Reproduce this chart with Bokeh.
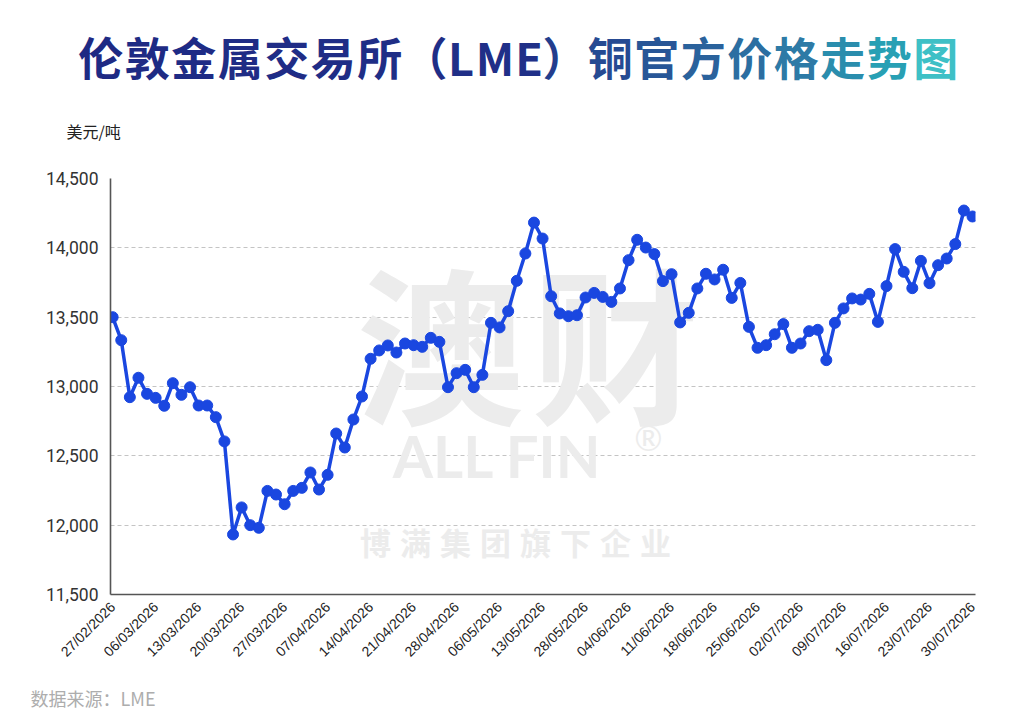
import math
from bokeh.plotting import figure
from bokeh.layouts import column
from bokeh.models import ColumnDataSource, Label, FixedTicker, Range1d, NumeralTickFormatter
from bokeh.embed import file_html
from bokeh.resources import INLINE

# ---------------- data ----------------
prices = [
    13500, 13334, 12923, 13063, 12947, 12918, 12861, 13024, 12940, 12995,
    12863, 12863, 12779, 12604, 11933, 12128, 12000, 11981, 12247, 12221,
    12151, 12247, 12269, 12380, 12257, 12363, 12661, 12560, 12762, 12928,
    13200, 13260, 13296, 13245, 13310, 13298, 13286, 13351, 13322, 12995,
    13096, 13120, 12995, 13084, 13459, 13426, 13543, 13762, 13959, 14182,
    14067, 13651, 13527, 13507, 13514, 13642, 13675, 13646, 13610, 13707,
    13911, 14058, 14002, 13955, 13760, 13810, 13462, 13531, 13707, 13813,
    13772, 13842, 13639, 13747, 13430, 13279, 13298, 13377, 13450, 13279,
    13310, 13399, 13409, 13190, 13459, 13563, 13635, 13627, 13668, 13466,
    13724, 13991, 13827, 13709, 13906, 13745, 13875, 13923, 14027, 14269,
    14226,
]
tick_labels = [
    "27/02/2026", "06/03/2026", "13/03/2026", "20/03/2026", "27/03/2026",
    "07/04/2026", "14/04/2026", "21/04/2026", "28/04/2026", "06/05/2026",
    "13/05/2026", "28/05/2026", "04/06/2026", "11/06/2026", "18/06/2026",
    "25/06/2026", "02/07/2026", "09/07/2026", "16/07/2026", "23/07/2026",
    "30/07/2026",
]
label_every = 5
y_ticks = [11500, 12000, 12500, 13000, 13500, 14000, 14500]
title_text = "伦敦金属交易所（LME）铜官方价格走势图"
unit_text = "美元/吨"
source_text = "数据来源：LME"
wm_big = "澳财"
wm_mid = "ALL FIN"
wm_small = "博满集团旗下企业"

# ---------------- page layout ----------------
W, H = 1024, 727
HEAD, FOOT = 145, 680          # header: page y 0..145, main: 145..680, footer: 680..727
FL, FR, FT, FB = 110, 975, 178, 594   # plot frame edges on the page
CJK = "Noto Sans CJK SC"


def text_panel(y0, y1):
    """A blank figure whose frame covers the whole panel; data units = page pixels."""
    f = figure(width=W, height=y1 - y0, output_backend="svg", toolbar_location=None,
               x_range=Range1d(0, W), y_range=Range1d(y1, y0),
               x_axis_type=None, y_axis_type=None, min_border=0, frame_align=False,
               background_fill_color="white", border_fill_color="white", outline_line_color=None)
    f.xgrid.visible = False
    f.ygrid.visible = False
    return f


def put(fig, text, px, py, size, color, font=CJK, bold=False, align="center", level="annotation"):
    fig.add_layout(Label(x=px, y=py, text=text, text_font=font,
                         text_font_style="bold" if bold else "normal",
                         text_font_size=size, text_color=color, text_align=align,
                         text_baseline="middle", level=level))


# ---------------- header ----------------
head = text_panel(0, HEAD)


def lerp(c1, c2, t):
    return "#%02x%02x%02x" % tuple(int(round(a + (b - a) * t)) for a, b in zip(c1, c2))


stops = [(0, (30, 42, 132)), (10, (32, 48, 136)), (12, (38, 74, 146)),
         (16, (45, 122, 166)), (18, (40, 160, 180)), (19, (62, 192, 198))]


def grad(i):
    for (i0, c0), (i1, c1) in zip(stops[:-1], stops[1:]):
        if i0 <= i <= i1:
            return lerp(c0, c1, (i - i0) / (i1 - i0))
    return lerp(stops[-1][1], stops[-1][1], 0)


adv = {"（": 44, "）": 44, "L": 28, "M": 40, "E": 28}
x_cursor = 77
for i, ch in enumerate(title_text):
    w = adv.get(ch, 46.5)
    put(head, ch, x_cursor + w / 2, 56, "45px", grad(i), bold=True)
    x_cursor += w
put(head, unit_text, 66, 130, "16px", "#222222", align="left")

# ---------------- main chart ----------------
n = len(prices)
src = ColumnDataSource(dict(x=list(range(n)), y=prices))

p = figure(width=W, height=FOOT - HEAD, output_backend="svg", toolbar_location=None,
           x_range=Range1d(-0.25, n - 1 + 0.35), y_range=Range1d(y_ticks[0], y_ticks[-1]),
           min_border_left=FL, min_border_right=W - FR,
           min_border_top=FT - HEAD, min_border_bottom=FOOT - FB, frame_align=False,
           background_fill_color="white", border_fill_color="white", outline_line_color=None)

ticks = list(range(0, n, label_every))
p.xaxis.ticker = FixedTicker(ticks=ticks)
p.xaxis.major_label_overrides = {t: tick_labels[i] for i, t in enumerate(ticks)}
p.xaxis.major_label_orientation = math.pi / 4
p.xaxis.major_label_text_font = "Liberation Sans"
p.xaxis.major_label_text_font_size = "14px"
p.xaxis.major_label_text_color = "#222222"
p.xaxis.major_tick_line_color = None
p.xaxis.minor_tick_line_color = None
p.xaxis.major_tick_out = 0
p.xaxis.major_label_standoff = 10
p.xaxis.axis_line_color = "#555555"
p.xaxis.axis_line_width = 1.6

p.yaxis.ticker = FixedTicker(ticks=y_ticks)
p.yaxis.formatter = NumeralTickFormatter(format="0,0")
p.yaxis.major_label_text_font = "Roboto"
p.yaxis.major_label_text_font_size = "17.5px"
p.yaxis.major_label_text_color = "#333333"
p.yaxis.major_tick_line_color = None
p.yaxis.minor_tick_line_color = None
p.yaxis.major_tick_out = 0
p.yaxis.major_label_standoff = 12
p.yaxis.axis_line_color = "#555555"
p.yaxis.axis_line_width = 1.6

p.xgrid.grid_line_color = None
p.ygrid.ticker = FixedTicker(ticks=y_ticks)
p.ygrid.grid_line_color = "#c4c4c4"
p.ygrid.grid_line_dash = "4 3"
p.ygrid.grid_line_width = 1


def put_frame(text, px, py, size, color, font=CJK, bold=False):
    """Watermark text in the frame; 'screen' units are frame-relative with y upward."""
    p.add_layout(Label(x=px - FL, y=FB - py, x_units="screen", y_units="screen", text=text,
                       text_font=font, text_font_style="bold" if bold else "normal",
                       text_font_size=size, text_color=color, text_align="center",
                       text_baseline="middle", level="underlay"))


wm_color = "#ececec"
for i, ch in enumerate(wm_big):
    put_frame(ch, 440 + i * 175, 338, "168px", wm_color, bold=True)
put_frame(wm_mid, 497, 455, "58px", wm_color, font="Lato", bold=True)
put_frame("®", 648, 437, "34px", wm_color, font="Lato")
for i, ch in enumerate(wm_small):
    put_frame(ch, 375 + i * 40, 541, "31px", wm_color, bold=True)

blue = "#1a47e0"
p.line("x", "y", source=src, line_color=blue, line_width=3.5)
p.scatter("x", "y", source=src, size=11, fill_color=blue, line_color=blue)

# ---------------- footer ----------------
foot = text_panel(FOOT, H)
put(foot, source_text, 30, 697, "18px", "#adadad", align="left")

layout = column(head, p, foot, spacing=0)
open("out.html", "w").write(file_html(layout, INLINE))
